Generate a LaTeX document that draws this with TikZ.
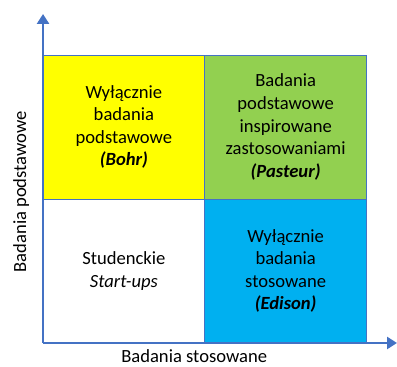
\documentclass[tikz,border=0pt]{standalone}
\usepackage{fontspec}
\setmainfont{Carlito}
\usepackage{xcolor}
\usetikzlibrary{arrows.meta, positioning}
\definecolor{AxisBlue}{RGB}{68, 114, 196}
\definecolor{PureYellow}{RGB}{255, 255, 0}
\definecolor{LeafGreen}{RGB}{146, 208, 80}
\definecolor{SkyBlue}{RGB}{0, 176, 240}

\begin{document}
\begin{tikzpicture}[node distance=0cm]
        \tikzset{
            quad_box/.style={rectangle, draw=AxisBlue, line width=0.6pt, minimum width=4.28cm, minimum height=3.81cm, outer sep=0pt, inner sep=2pt, align=center, font=\fontsize{14}{17}\selectfont},
            axis_line/.style={AxisBlue, line width=2.2pt, -{Triangle[width=9pt, length=7.5pt]}},
            axis_label/.style={font=\fontsize{14}{17}\selectfont, inner sep=1pt}
        }
        \useasboundingbox (-1.138,-0.635) rectangle (9.366,9.075);

        \coordinate (origin) at (0,0);
        \coordinate (ytip) at (0,8.705);
        \coordinate (xtip) at (9.366,0);

        \node[quad_box, fill=white, anchor=south west] (q3) at (origin) {Studenckie\\\textit{Start-ups}};
        \node[quad_box, fill=PureYellow, above=of q3] (q1) {Wyłącznie\\badania\\podstawowe\\\textbf{\textit{(Bohr)}}};
        \node[quad_box, fill=LeafGreen, right=of q1] (q2) {Badania\\podstawowe\\inspirowane\\zastosowaniami\\\textbf{\textit{(Pasteur)}}};
        \node[quad_box, fill=SkyBlue, right=of q3] (q4) {Wyłącznie\\badania\\stosowane\\\textbf{\textit{(Edison)}}};

        \draw[axis_line] (origin) -- (ytip);
        \draw[axis_line] (origin) -- (xtip);

        \node[axis_label, rotate=90] (ylabel) at (-0.58,4.0) {Badania podstawowe};
        \node[axis_label, anchor=base] (xlabel) at (4.0,-0.52) {Badania stosowane};

    \end{tikzpicture}
\end{document}
